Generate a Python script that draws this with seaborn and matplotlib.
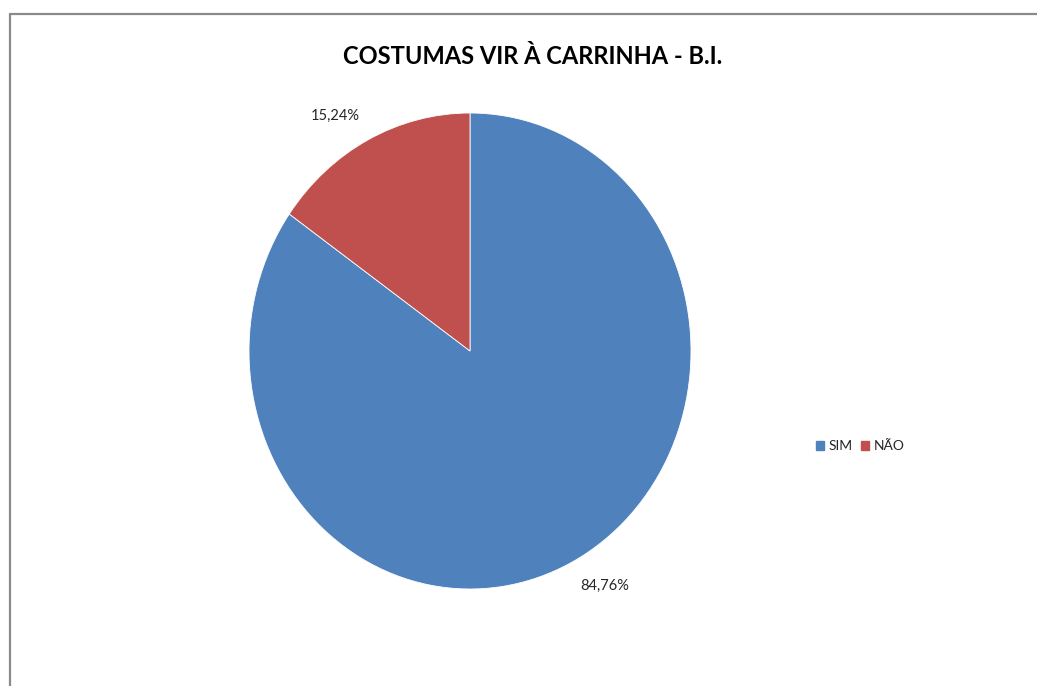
import matplotlib
matplotlib.use('Agg')
import matplotlib.pyplot as plt
import matplotlib.patches as mpatches
import matplotlib.lines as mlines
import seaborn as sns

labels = ['SIM', 'NÃO']
values = [84.76, 15.24]
colors = ['#4F81BD', '#C0504D']
title = 'COSTUMAS VIR À CARRINHA - B.I.'

sns.set_theme(style='white')
plt.rcParams['font.family'] = ['Lato', 'DejaVu Sans']

W, H = 1037, 686
fig = plt.figure(figsize=(W / 100, H / 100), dpi=100)
fig.patch.set_linewidth(0)

# moldura cinzenta: só a linha de cima e a da esquerda ficam visíveis
x0, y0 = 10 / W, 1 - 14 / H
fig.add_artist(mlines.Line2D([x0, 1.05], [y0, y0], transform=fig.transFigure,
                             color='#8a8a8a', linewidth=1.6))
fig.add_artist(mlines.Line2D([x0, x0], [-0.05, y0], transform=fig.transFigure,
                             color='#8a8a8a', linewidth=1.6))

# eixo com a tarte ligeiramente esticada na vertical, como no original
ax = fig.add_axes([249 / W, (H - 589) / H, 442 / W, 476 / H])
pal = sns.color_palette(colors)
wedges, texts, autotexts = ax.pie(values, colors=pal, startangle=90, counterclock=False,
                                  autopct=lambda p: f'{p:.2f}%'.replace('.', ','),
                                  pctdistance=1.08,
                                  wedgeprops={'linewidth': 0.6, 'edgecolor': 'white'},
                                  textprops={'fontsize': 10.5, 'color': '#262626'})
# rótulos "por fora", encostados ao bordo da fatia
for t in autotexts:
    x, y = t.get_position()
    t.set_ha('left' if x > 0 else 'right')
    t.set_va('bottom' if y > 0 else 'top')
ax.set_aspect('auto')
ax.set_xlim(-1, 1)
ax.set_ylim(-1, 1)
ax.axis('off')

fig.text(533 / W, 1 - 57 / H, title, ha='center', va='center',
         fontsize=17, fontweight='bold', color='black')

handles = [mpatches.Patch(color=c) for c in pal]
fig.legend(handles, labels, loc='center', bbox_to_anchor=(860 / W, 1 - 446 / H),
           ncol=2, frameon=False, fontsize=10, handlelength=0.6, handleheight=0.6,
           handletextpad=0.3, columnspacing=0.6, labelcolor='#262626')

plt.savefig('out.png', dpi=100, facecolor='white', edgecolor='white')
